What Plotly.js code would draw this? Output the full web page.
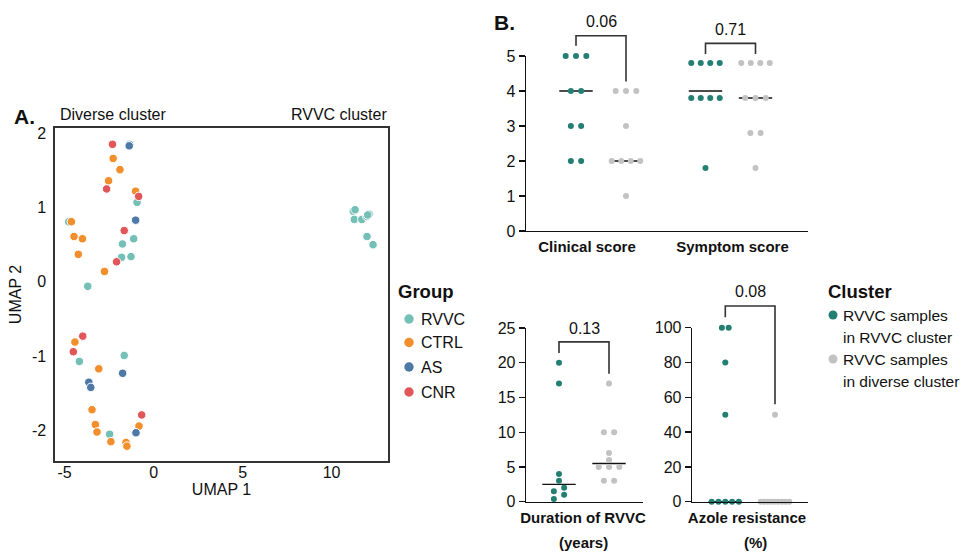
<!DOCTYPE html>
<html><head><meta charset="utf-8">
<script src="https://cdn.plot.ly/plotly-3.0.1.min.js"></script>
<style>html,body{margin:0;padding:0;background:#fff}#chart{width:971px;height:553px}</style>
</head><body><div id="chart"></div>
<script>
// ---------- Panel A: UMAP ----------
const groupNames = ['RVVC','CTRL','AS','CNR'];
const rvvcX = [-1.34,-0.93,-4.77,-1.12,-1.75,-1.80,-1.27,-3.70,-4.17,-1.65,-2.47,11.22,11.32,11.28,11.70,11.98,12.11,12.03,11.99,12.33];
const rvvcY = [1.85,1.07,0.81,0.58,0.51,0.33,0.34,-0.06,-1.07,-0.99,-2.05,0.95,0.97,0.84,0.84,0.88,0.91,0.90,0.61,0.50];
const ctrlX = [-2.27,-1.89,-2.53,-1.01,-4.62,-4.47,-4.00,-4.23,-2.76,-4.42,-3.08,-3.46,-3.27,-0.82,-3.18,-2.40,-1.55,-1.50];
const ctrlY = [1.66,1.51,1.36,1.22,0.81,0.61,0.58,0.37,0.14,-0.81,-1.17,-1.72,-1.92,-1.94,-2.02,-2.15,-2.16,-2.21];
const asX = [-1.37,-1.01,-1.74,-3.64,-3.53,-0.99];
const asY = [1.83,0.83,-1.23,-1.35,-1.42,-2.03];
const cnrX = [-2.31,-2.64,-0.84,-1.65,-2.08,-3.98,-4.51,-0.67];
const cnrY = [1.85,1.25,1.15,0.69,0.27,-0.73,-0.94,-1.79];
const umapXTicks = [-5,0,5,10];
const umapYTicks = [-2,-1,0,1,2];

// ---------- Panel B: cluster comparison ----------
const clusterNames = ['RVVC samples<br>in RVVC cluster','RVVC samples<br>in diverse cluster'];
const clinicalTeal = [5,5,5,4,4,3,3,2,2];
const clinicalGrey = [4,4,4,3,2,2,2,2,1];
const symptomTeal = [4.8,4.8,4.8,4.8,3.8,3.8,3.8,3.8,1.8];
const symptomGrey = [4.8,4.8,4.8,4.8,3.8,3.8,3.8,2.8,2.8,1.8];
const durationTeal = [20,17,4,3,2,1.5,1,0.4];
const durationGrey = [17,10,10,7,6,5,5,5,3,3];
const azoleTeal = [100,100,80,50,0,0,0,0,0];
const azoleGrey = [50,0,0,0,0,0,0,0,0,0];
const clinicalMedians = [4,2];
const symptomMedians = [4.0,3.8];
const durationMedians = [2.5,5.5];
const azoleMedians = [0,0];
const pValues = ['0.06','0.71','0.13','0.08'];

// ---------- styling / layout ----------
const W = 971, H = 553;
const FONT = 'Liberation Sans, Arial, Helvetica, sans-serif';
const groupColors = ['#74bfb6','#f28e2b','#4e79a7','#e15759'];
const tealB = '#237f72', greyB = '#c2c2c2';
const fx = p => p / W, fy = p => 1 - p / H;

// subplot pixel boxes [left, right, top, bottom]
const boxA = [55, 388, 128, 461];
const boxTop = [526, 808, 56, 231];
const boxDur = [526, 643, 328, 501.7];
const boxAz = [692, 808, 327.7, 501.7];

// group centres in axis units (axis units = px along x for panel B)
const topCentres = [50, 100, 179.5, 229.5];
const durCentres = [33, 83];
const azCentres = [33.3, 83];

function swarm(values, centre, yPxPerUnit, spacingPx) {
  const idx = values.map((v, i) => i).sort((a, b) => values[a] - values[b]);
  const xs = new Array(values.length);
  const bins = []; let cur = [];
  idx.forEach(i => {
    if (cur.length && (values[i] - values[cur[0]]) * yPxPerUnit >= 6.5) { bins.push(cur); cur = []; }
    cur.push(i);
  });
  if (cur.length) bins.push(cur);
  bins.forEach(b => {
    const n = b.length;
    const s = n > 1 ? Math.min(spacingPx, 28.5 / (n - 1)) : 0;
    b.forEach((i, k) => { xs[i] = centre + (k - (n - 1) / 2) * s; });
  });
  return xs;
}

const traces = [];
// Panel A traces
[[rvvcX, rvvcY], [ctrlX, ctrlY], [asX, asY], [cnrX, cnrY]].forEach((d, i) => {
  traces.push({
    type: 'scatter', mode: 'markers', x: d[0], y: d[1], name: groupNames[i],
    xaxis: 'x', yaxis: 'y', showlegend: false, cliponaxis: false,
    marker: {size: 8.5, color: groupColors[i], line: {color: '#ffffff', width: 1}},
    hoverinfo: 'skip'
  });
});

function dots(vals, centre, box, yMax, spacing, color, xa, ya, name) {
  const pxPerUnit = (box[3] - box[2]) / yMax;
  traces.push({
    type: 'scatter', mode: 'markers', x: swarm(vals, centre, pxPerUnit, spacing), y: vals,
    xaxis: xa, yaxis: ya, showlegend: false, cliponaxis: false, name: name,
    marker: {size: 6, color: color}, hoverinfo: 'skip'
  });
}
dots(clinicalTeal, topCentres[0], boxTop, 5, 10.3, tealB, 'x2', 'y2', clusterNames[0]);
dots(clinicalGrey, topCentres[1], boxTop, 5, 10.3, greyB, 'x2', 'y2', clusterNames[1]);
dots(symptomTeal, topCentres[2], boxTop, 5, 10.3, tealB, 'x2', 'y2', clusterNames[0]);
dots(symptomGrey, topCentres[3], boxTop, 5, 10.3, greyB, 'x2', 'y2', clusterNames[1]);
dots(durationTeal, durCentres[0], boxDur, 25, 10.3, tealB, 'x3', 'y3', clusterNames[0]);
dots(durationGrey, durCentres[1], boxDur, 25, 10.3, greyB, 'x3', 'y3', clusterNames[1]);
dots(azoleTeal, azCentres[0], boxAz, 100, 6.8, tealB, 'x4', 'y4', clusterNames[0]);
dots(azoleGrey, azCentres[1], boxAz, 100, 6.8, greyB, 'x4', 'y4', clusterNames[1]);

const shapes = [];
function median(c, m, yMax, xa, ya) {
  shapes.push({type: 'line', xref: xa, yref: ya + ' domain', x0: c - 16.7, x1: c + 16.7,
    y0: m / yMax, y1: m / yMax, line: {color: '#111', width: 1.3}, layer: 'below'});
}
median(topCentres[0], clinicalMedians[0], 5, 'x2', 'y2');
median(topCentres[1], clinicalMedians[1], 5, 'x2', 'y2');
median(topCentres[2], symptomMedians[0], 5, 'x2', 'y2');
median(topCentres[3], symptomMedians[1], 5, 'x2', 'y2');
median(durCentres[0], durationMedians[0], 25, 'x3', 'y3');
median(durCentres[1], durationMedians[1], 25, 'x3', 'y3');
median(azCentres[0], azoleMedians[0], 100, 'x4', 'y4');
median(azCentres[1], azoleMedians[1], 100, 'x4', 'y4');

// significance brackets: [xLeft, xRight, yLeftEnd, yTop, yRightEnd, yMax, xa, ya, label y]
const brackets = [
  [topCentres[0], topCentres[1], 5.29, 5.58, 4.27, 5, 'x2', 'y2', 5.98],
  [topCentres[2], topCentres[3], 5.06, 5.36, 5.06, 5, 'x2', 'y2', 5.76],
  [durCentres[0], durCentres[1], 21.4, 23.0, 18.4, 25, 'x3', 'y3', 25.0],
  [azCentres[0], azCentres[1], 106, 112.5, 56, 100, 'x4', 'y4', 120.7]
];
const annotations = [];
brackets.forEach((b, i) => {
  const m = b[5];
  shapes.push({type: 'path', xref: b[6], yref: b[7] + ' domain',
    path: `M ${b[0]},${b[2]/m} L ${b[0]},${b[3]/m} L ${b[1]},${b[3]/m} L ${b[1]},${b[4]/m}`,
    line: {color: '#333', width: 1.6}});
  annotations.push({xref: b[6], yref: b[7] + ' domain', x: (b[0] + b[1]) / 2, y: b[8] / m, text: pValues[i],
    showarrow: false, font: {size: 16, color: '#111'}, xanchor: 'center', yanchor: 'middle'});
});

function txt(t, x, y, size, anchor, bold) {
  annotations.push({xref: 'paper', yref: 'paper', x: fx(x), y: fy(y), text: bold ? '<b>' + t + '</b>' : t,
    showarrow: false, xanchor: anchor, yanchor: 'middle', font: {size: size, color: '#111'}, align: 'left'});
}
txt('A.', 12, 117, 21, 'left', true);
txt('B.', 492, 22, 21, 'left', true);
txt('Diverse cluster', 58, 114, 16, 'left', false);
txt('RVVC cluster', 389, 114, 16, 'right', false);
txt('(years)', 583, 542, 15, 'center', true);
txt('(%)', 755, 542, 15, 'center', true);

// Group legend
txt('Group', 396, 291, 18.5, 'left', true);
const groupLegY = [319, 342.5, 367, 392];
groupNames.forEach((g, i) => {
  shapes.push({type: 'circle', xref: 'paper', yref: 'paper', xsizemode: 'pixel', ysizemode: 'pixel',
    xanchor: fx(409), yanchor: fy(groupLegY[i]), x0: -4.7, x1: 4.7, y0: -4.7, y1: 4.7,
    fillcolor: groupColors[i], line: {width: 0}});
  txt(g, 419, groupLegY[i], 16, 'left', false);
});
// Cluster legend
txt('Cluster', 826, 291, 18.5, 'left', true);
const clusterLegY = [315, 359];
const clusterColors = [tealB, greyB];
clusterNames.forEach((c, i) => {
  shapes.push({type: 'circle', xref: 'paper', yref: 'paper', xsizemode: 'pixel', ysizemode: 'pixel',
    xanchor: fx(833), yanchor: fy(clusterLegY[i]), x0: -4.5, x1: 4.5, y0: -4.5, y1: 4.5,
    fillcolor: clusterColors[i], line: {width: 0}});
  const lines = c.split('<br>');
  txt(lines[0], 841, clusterLegY[i], 15.5, 'left', false);
  txt(lines[1], 841, clusterLegY[i] + 22, 15.5, 'left', false);
});

const common = {showgrid: false, zeroline: false, fixedrange: true, tickfont: {size: 16, color: '#111'}};
const bY = Object.assign({}, common, {showline: true, linecolor: '#111', linewidth: 1.3, ticks: 'outside',
  ticklen: 6, tickwidth: 1.3, tickcolor: '#111'});
const bX = Object.assign({}, common, {showline: true, linecolor: '#111', linewidth: 1.3, ticks: 'outside',
  ticklen: 2, tickcolor: 'rgba(0,0,0,0)', tickfont: {size: 15, color: '#111'}});

const layout = {
  width: W, height: H, margin: {l: 0, r: 0, t: 0, b: 0}, paper_bgcolor: '#fff', plot_bgcolor: 'rgba(0,0,0,0)',
  font: {family: FONT, color: '#111'}, showlegend: false,
  xaxis: Object.assign({}, common, {domain: [fx(boxA[0]), fx(boxA[1])], range: [-5.54, 13.17], anchor: 'y',
    showline: true, mirror: true, linecolor: '#333', linewidth: 1.6, ticks: '', ticklabelstandoff: -4,
    tickvals: umapXTicks, ticktext: umapXTicks.map(String),
    title: {text: 'UMAP 1', font: {size: 16}, standoff: 4}}),
  yaxis: Object.assign({}, common, {domain: [fy(boxA[3]), fy(boxA[2])], range: [-2.41, 2.07], anchor: 'x',
    showline: true, mirror: true, linecolor: '#333', linewidth: 1.6, ticks: 'outside', ticklen: 4,
    tickcolor: 'rgba(0,0,0,0)', tickvals: umapYTicks, ticktext: umapYTicks.map(String),
    title: {text: 'UMAP 2', font: {size: 16}, standoff: 6}}),
  xaxis2: Object.assign({}, bX, {domain: [fx(boxTop[0]), fx(boxTop[1])], range: [0, boxTop[1] - boxTop[0]], anchor: 'y2',
    tickvals: [61, 206.5], ticktext: ['<b>Clinical score</b>', '<b>Symptom score</b>']}),
  yaxis2: Object.assign({}, bY, {domain: [fy(boxTop[3]), fy(boxTop[2])], range: [0, 5], anchor: 'x2', dtick: 1}),
  xaxis3: Object.assign({}, bX, {domain: [fx(boxDur[0]), fx(boxDur[1])], range: [0, boxDur[1] - boxDur[0]], anchor: 'y3',
    tickvals: [57], ticktext: ['<b>Duration of RVVC</b>']}),
  yaxis3: Object.assign({}, bY, {domain: [fy(boxDur[3]), fy(boxDur[2])], range: [0, 25], anchor: 'x3', dtick: 5}),
  xaxis4: Object.assign({}, bX, {domain: [fx(boxAz[0]), fx(boxAz[1])], range: [0, boxAz[1] - boxAz[0]], anchor: 'y4',
    tickvals: [55], ticktext: ['<b>Azole resistance</b>']}),
  yaxis4: Object.assign({}, bY, {domain: [fy(boxAz[3]), fy(boxAz[2])], range: [0, 100], anchor: 'x4', dtick: 20}),
  shapes: shapes, annotations: annotations
};

Plotly.newPlot('chart', traces, layout, {displayModeBar: false, staticPlot: true});
</script></body></html>
